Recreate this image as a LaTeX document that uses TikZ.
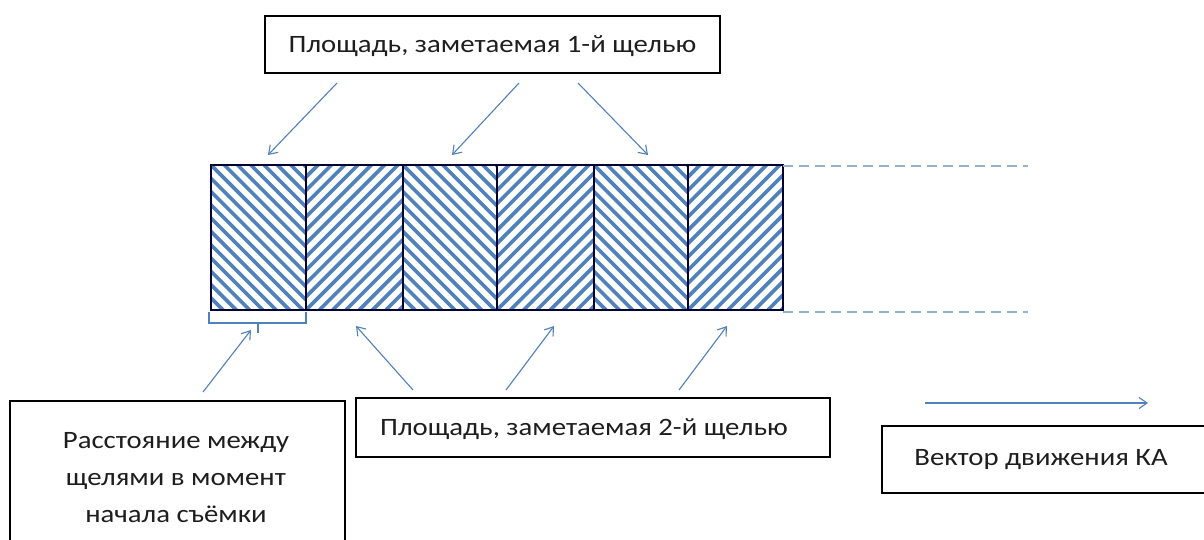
\documentclass[tikz,border=0pt]{standalone}
\usepackage{fontspec}
\setmainfont{Carlito}[FakeStretch=1.15]
\usetikzlibrary{arrows.meta}
\definecolor{hblue}{RGB}{79,129,189}
\definecolor{dblue}{RGB}{150,175,210}
\definecolor{tcol}{RGB}{30,30,30}
\tikzset{
  box/.style={draw=black, line width=1.4pt, fill=white, inner sep=0pt},
  txt/.style={font=\fontsize{25}{37}\selectfont, text=tcol, inner sep=0pt, align=center},
  arr/.style={draw=hblue, line width=1.1pt, -{Straight Barb[length=8pt,width=11pt,line width=1.1pt]}},
  hatch/.style={draw=hblue, line width=3.6pt},
  cell/.style={draw=black!80!blue, line width=1.3pt},
  dash line/.style={draw=dblue, line width=2pt, dash pattern=on 10pt off 6pt},
}
\begin{document}
\begin{tikzpicture}[x=1pt,y=-1pt]
\useasboundingbox (0,0) rectangle (1204,539);
\fill[white] (0,0) rectangle (1204,539);
\begin{scope}
\clip (0,0) rectangle (1204,539);
% hatched cells
\foreach \i/\xa/\xb/\dir in {1/211/306/0,2/306/403/1,3/403/497/0,4/497/594/1,5/594/688/0,6/688/783/1}{
  \begin{scope}
    \clip (\xa,165) rectangle (\xb,310);
    \foreach \k in {-14,...,10}{
      \pgfmathsetmacro{\xo}{\xa+\k*13.3}
      \ifnum\dir=0
        \draw[hatch] (\xo,165) -- ++(150,150);
      \else
        \draw[hatch] (\xo,310) -- ++(150,-150);
      \fi
    }
  \end{scope}
  \draw[cell] (\xa,165) rectangle (\xb,310);
}
\coordinate (rt) at (783,166);
\coordinate (rb) at (783,312);
\coordinate (dt) at (1028,166);
\coordinate (db) at (1028,312);
\draw[dash line] (rt) -- (dt);
\draw[dash line] (rb) -- (db);
% bracket
\coordinate (bl) at (209,312);
\coordinate (br) at (306,312);
\coordinate (btk) at (258,323);
\draw[hblue, line width=2.2pt] (bl) -- (209,323) -- (306,323) -- (br);
\draw[hblue, line width=2.2pt] (btk) -- (258,333);
% boxes
\node[box, minimum width=455pt, minimum height=57pt] (b1) at (492.5,44.5) {};
\node[txt] (t1) at (492.5,46) {Площадь, заметаемая 1-й щелью};
\node[box, minimum width=474pt, minimum height=59pt] (b2) at (593,427.5) {};
\node[txt] (t2) at (584,429) {Площадь, заметаемая 2-й щелью};
\node[box, minimum width=335pt, minimum height=150pt] (b3) at (177.5,476) {};
\node[txt] (t3) at (176,478) {Расстояние между\\щелями в момент\\начала съёмки};
\node[box, minimum width=340pt, minimum height=67pt] (b4) at (1052,459.5) {};
\node[txt] (t4) at (1041,460) {Вектор движения КА};
% arrows top
\coordinate (a1s) at (337,83); \coordinate (a1e) at (268,155);
\coordinate (a2s) at (519,83); \coordinate (a2e) at (452,155);
\coordinate (a3s) at (578,83); \coordinate (a3e) at (648,155);
\draw[arr] (a1s) -- (a1e);
\draw[arr] (a2s) -- (a2e);
\draw[arr] (a3s) -- (a3e);
% arrows bottom
\coordinate (c1s) at (413,390); \coordinate (c1e) at (356,326);
\coordinate (c2s) at (506,390); \coordinate (c2e) at (554,326);
\coordinate (c3s) at (679,390); \coordinate (c3e) at (727,326);
\coordinate (c4s) at (203,392); \coordinate (c4e) at (251,330);
\draw[arr] (c1s) -- (c1e);
\draw[arr] (c2s) -- (c2e);
\draw[arr] (c3s) -- (c3e);
\draw[arr] (c4s) -- (c4e);
% motion vector
\coordinate (vs) at (925,403); \coordinate (ve) at (1148,403);
\draw[arr] (vs) -- (ve);
\end{scope}
\end{tikzpicture}
\end{document}
